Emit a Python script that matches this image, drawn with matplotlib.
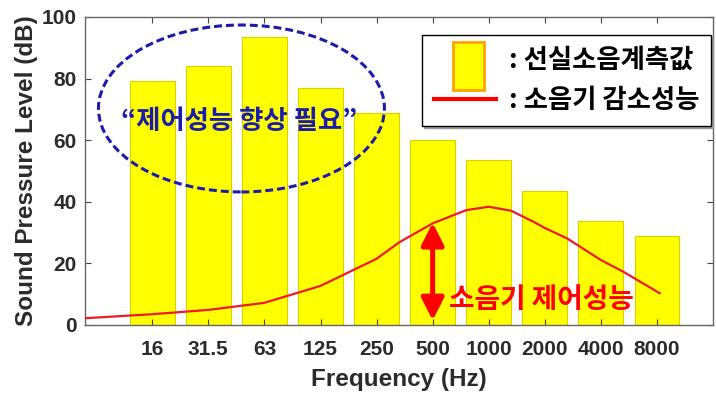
"""Room noise level per octave band vs. muffler attenuation."""

import matplotlib.pyplot as plt
from matplotlib.patches import Ellipse, Rectangle
from matplotlib.lines import Line2D
from matplotlib.legend_handler import HandlerPatch

# measured cabin noise per octave band
freq_labels = ['16', '31.5', '63', '125', '250', '500', '1000', '2000', '4000', '8000']
measured_db = [79.2, 84.1, 93.6, 76.8, 68.7, 60.1, 53.6, 43.4, 33.9, 28.9]

# muffler attenuation curve (x in band-index units)
atten_x = [-0.2, 1.0, 2.0, 3.0, 4.0, 5.0, 5.4, 6.0, 6.6, 7.0, 7.4, 7.8, 8.0, 8.4, 9.0, 9.4, 10.05]
atten_db = [2.2, 3.5, 4.9, 7.2, 12.7, 21.5, 26.8, 33.0, 37.3, 38.4, 37.1, 33.5, 31.5, 28.1, 21.1, 17.3, 10.3]

KR = ['Noto Sans CJK KR', 'DejaVu Sans']
AX_FONT = 'Liberation Sans'
DARK = '#2b2b2b'
NAVY = '#1c1caa'


class TallPatchHandler(HandlerPatch):
    """Narrow, tall legend swatch like the original."""

    def create_artists(self, legend, orig_handle, xdescent, ydescent, width, height, fontsize, trans):
        p = Rectangle((-xdescent + width * 0.32, -ydescent - height * 1.2), width * 0.5, height * 2.6,
                      facecolor=orig_handle.get_facecolor(), edgecolor=orig_handle.get_edgecolor(),
                      linewidth=orig_handle.get_linewidth(), transform=trans)
        return [p]


fig = plt.figure(figsize=(7.16, 3.97), dpi=100)
ax = fig.add_axes([85 / 716, 1 - 325 / 397, 628 / 716, 308 / 397])

pos = list(range(1, len(freq_labels) + 1))
ax.bar(pos, measured_db, width=0.8, color='#ffff00', edgecolor='#dccf00', linewidth=0.8, zorder=1)
ax.plot(atten_x, atten_db, color='#ec1c24', lw=1.6, zorder=3)

ax.set_xlim(-0.2, 11.0)
ax.set_ylim(0, 100)
ax.set_xticks(pos)
ax.set_xticklabels(freq_labels)
ax.set_yticks([0, 20, 40, 60, 80, 100])

ax.tick_params(direction='in', top=True, right=True, length=4, width=0.8, color='#444444',
               labelsize=15, labelcolor=DARK, pad=6)
ax.tick_params(axis='x', pad=11)
for lab in ax.get_xticklabels() + ax.get_yticklabels():
    lab.set_fontweight('bold')
    lab.set_family(AX_FONT)
for sp in ax.spines.values():
    sp.set_color('#666666')
    sp.set_linewidth(1.0)

ax.set_xlabel('Frequency (Hz)', fontsize=17.5, fontweight='bold', color=DARK, family=AX_FONT, labelpad=6)
ax.set_ylabel('Sound Pressure Level (dB)', fontsize=17.5, fontweight='bold', color=DARK, family=AX_FONT,
              labelpad=3)

# dashed ellipse around the low-frequency bands
ax.add_patch(Ellipse((2.59, 70.3), 5.1, 54.2, fill=False, edgecolor=NAVY, lw=2.2,
                     linestyle=(0, (2.6, 1.3)), zorder=4))
ax.text(2.55, 66.0, '\u201c제어성능 향상 필요\u201d', color=NAVY, fontsize=19, fontweight='bold',
        family=KR, ha='center', va='center', zorder=5)

# double-headed arrow showing muffler performance at 500 Hz
ax.annotate('', xy=(6.0, 1.5), xytext=(6.0, 33.2),
            arrowprops=dict(arrowstyle='<|-|>,head_length=0.75,head_width=0.38', lw=3.6,
                            color='#ff0000', mutation_scale=18, shrinkA=0, shrinkB=0), zorder=5)
ax.text(6.3, 8.0, '소음기 제어성능', color='#ff0000', fontsize=20, fontweight='bold',
        family=KR, ha='left', va='center', zorder=5)

handles = [Rectangle((0, 0), 1, 1, facecolor='#ffff00', edgecolor='#ffa500', lw=2),
           Line2D([], [], color='#ff0000', lw=3)]
leg = ax.legend(handles, [': 선실소음계측값', ': 소음기 감소성능'],
                handler_map={Rectangle: TallPatchHandler()},
                loc='upper right', bbox_to_anchor=(711 / 716, 1 - 35 / 397), bbox_transform=fig.transFigure,
                borderaxespad=0, fancybox=False, edgecolor='black', framealpha=1,
                shadow={'ox': 1.5, 'oy': -1.5, 'color': '0.6', 'alpha': 1},
                prop={'family': KR, 'weight': 'bold', 'size': 19},
                handlelength=2.35, handletextpad=0.5, labelspacing=0.5, borderpad=0.45)
leg.get_frame().set_linewidth(1.0)
leg.set_zorder(6)

fig.savefig('out.png', dpi=100)
